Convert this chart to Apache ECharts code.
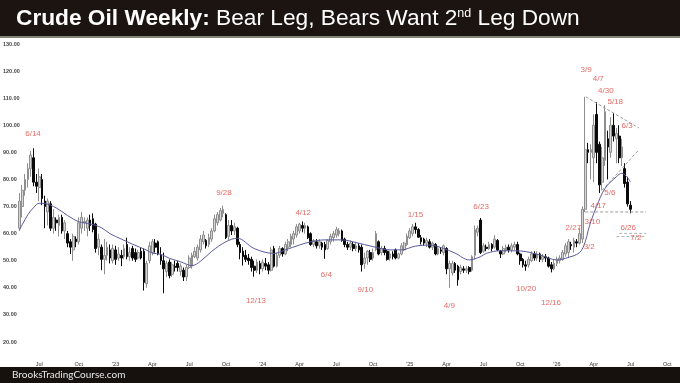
<!DOCTYPE html>
<html><head><meta charset="utf-8">
<script src="https://cdn.jsdelivr.net/npm/echarts/dist/echarts.min.js"></script>
<style>html,body{margin:0;padding:0;background:#fff;overflow:hidden}#c{width:680px;height:383px}</style>
</head><body><div id="c"></div>
<script>
// ---------- data ----------
const startWeek = '2022-05-13';   // first weekly bar (week ending Friday)
const totalWeeks = 234;           // axis span incl. empty future weeks
const monthTicks = {3:'Apr', 6:'Jul', 9:'Oct'}; // Jan shows the year as 'YY

const opens = [
62,70,76,80,84,88,79,77,80,72,
68,71,62,65,63,66,61,60,57,54,
58,57,62,64,62,65,65.5,63.5,55,55,
50.5,52,54,50,54,51,52,51.5,56,51.5,
54.5,53,51,53.5,53.5,41.5,50,53,56.5,57,
52,50,46,49.5,45,48,49,46,46.5,44,
47.5,48,51.5,51,54,57,57.5,56,58,61,
64,65,67.5,67,59,63,61,62,56,53.5,
52,51,50.5,48,46.5,49,47,49,48.5,46.5,
54.5,48,52,54.5,52.5,55,56,58,59.5,61,
63,62,62.5,60,56,57,55.5,56.5,56,54.5,
57,58.5,59.5,60,61,58,56,55,56,54.5,
55.5,55,49,51,53,51,54,57,53,54.5,
53.5,51,52.5,54,51,52.5,54,56,58.5,60,
62.5,61.5,58.5,58,56.5,57,55,56,52.5,54,
53,54.5,47,45.5,49,48,46,47,46.5,47.5,
46.5,52,60.5,65,53.5,55,54.5,56,55,57.5,
53.5,52.5,54,55,54,55,56,52.5,50.5,48.5,
48.5,50,52.5,51,52.5,50.5,51.5,51,48.5,47,
49,50,50.5,52.5,53,56,55,57,56.5,58,
69,91,90,88,104,93,79,87,95,90,
100,95,96,88,84,79,70.5];
const closes = [
72,76,80,84,89,79,77.5,81,73,70,
72,62,66,64,66,61,64,56.5,55,59,
57,64,66,64.5,65,63,61.5,54.5,58,50.5,
52,55,51,54.5,50.5,52.5,51,54.5,51.5,53,
51,50.5,53,51,42,49,55.5,57,55,52.5,
50,47,49,44.5,48.5,47.5,47.5,48,44,47.5,
51,52,53.5,55,58,59.5,55.5,58.5,61,65.5,
67,68.5,69,58.5,63,61,62.5,56,53,51.5,
50.5,50,47.5,46.5,49.5,47,49.5,48,46.5,54,
48,52,54.5,52.5,56,57,59,60,62.5,63.5,
62,63,58.5,56,57.5,55.5,57,55,54,57.5,
59,60,61.5,61,57.5,56,55,56.5,54.5,55.5,
54,48.5,51,53.5,50.5,53,60,52.5,54.5,53,
50.5,52.5,51.5,51,52.5,55.5,56.5,59,61,62.5,
61.5,58.7,57,56.5,57.5,55,56.5,52.5,54.5,53.5,
55.5,47,49,49,46.5,43,47.5,46.5,47,46,
51.5,61.5,62,53,55.5,54.5,56,54.5,58,54,
52.5,54.5,55,54,55.5,56,52.5,50,48.5,48,
50.5,52.5,51,52.5,50.5,51.5,51,48,47,49,
50.5,51,53,55.5,57,55.5,57.5,56.5,60,69,
91,90,91,100,90,78,88,105,92,100,
96,97,88,92,78.5,71,69];
const highs = [
75,78,82,86,90.5,91.5,82,84,82,74,
73,72,69,66,67,67,65,61,58,60,
59,66,68,66,66,67,67.5,64,60,56,
58,57,56,56,55.5,55,54,56,58.5,55,
55.5,54.5,54,55,54.5,50,57,58,58,57.5,
55,53,50,50.5,49.5,50,50,49,47.5,48.5,
52,53,55,56,59.5,61,58,60,62,67,
68,69.5,70.3,67.5,65,65,64,62.5,57,55,
54,52.5,51.5,50,50.5,50,50.5,51,49.5,55,
55.5,53,55.5,55,57,58,60,61,63.5,64,
64.5,64,63,60.5,58,58,58,57,57,58,
60,61,62.5,62,61.5,58.5,57,57.5,57,57,
56.5,56,53,54,54,54.5,61,57.5,55.5,55.5,
54,53.5,53.5,54.5,53,56.5,57,60,62,63.6,
64,62,59.5,58.5,58.5,58,57,56.5,55.5,55,
56,55,50,50,49.5,48.5,48.5,48,48,48,
52,63,63,65.8,56.5,56,57,56.5,59.5,58,
54,55.5,56,56,56.5,57,57,53,51,50,
51.5,53.5,53.5,53.5,53,52.5,52.5,51.5,49.5,50.5,
51.5,52,54,56.5,58,57,58.5,58,62,70,
110.5,93.5,93,104,108.6,94,92,107.4,98,103,
104.5,99,100,95,86,81,72];
const lows = [
61,66,74,77,81,77.5,75,72,70.5,62,
63,61,60,61,59,60,58,55,52.5,50,
55,56,60,61,59,61,60.5,53,52,46.5,
45,50,49,49,48.5,50,48,50.5,50.5,50,
50,49.5,50.5,50.5,39,40,49,52,53,52,
48.5,38,44,43.5,44,46,46,44.5,42.5,42.5,
47,47,51,50,53,56,54.5,55,57,60.5,
63,64.5,66,58,57.5,59.5,59.5,55,50.5,48.2,
49.5,48.5,46,44.1,45.5,45,46,46.5,45,46,
47.5,47.5,51,51.5,52,53.5,55,56,58.5,60,
60.5,60,58,55.5,55,54.5,54.5,54,50.7,54,
56,57,58.5,59,57,55,54,54,53.5,53.5,
53,46,47,48.5,49.5,50,53.5,52,52,52,
50,50,50.5,50.5,50.5,52,53.5,55.5,58,59,
60,58.5,56,55.5,55,54.5,54,52,52,52.5,
52,45,40,44.5,45.5,40.8,45,45.5,45.5,45,
46,50.5,59,52.5,53,53.5,54,53.5,54.5,53.5,
51,52,53,53,53,54,52,48.5,47.5,46.3,
47.5,49.5,50,50,49.5,49.5,49.5,47.5,45.7,46.5,
48,49,50,51.5,51,54,53,55,56,56.5,
68,86,80,79,86,75,76,85,80,88,
94,86,86,85,77,70,67.5];

// moving average (week index, value)
const maWeek = [0,3,5,7,9,13,17,21,25,29,32,36,40,45,47,50,53,57,61,64,68,73,77,83,90,94,99,103,108,114,119,125,131,135,140,145,150,154,159,163,165,170,177,184,190,193,198,200,201,202,204,207,211,213,215,216];
const maValue = [61.3,67,69.6,71.2,71.1,69.5,66.7,64.4,63.6,62.2,60,58,56.1,53.9,52.8,52.4,50.9,49.6,48.2,49.8,53.5,57,58.3,54.5,52.7,54,55.8,57,57.7,57.7,56.7,55.2,54,54,55.4,55.8,54.5,52.8,50.3,51.5,52.7,53.7,53.6,52.1,50.3,50.9,53,57,61,64.5,70,76.7,81,82.3,80.6,79];

// dashed trend / support lines: [week, price] pairs
const trendTop     = [[200.2,110.5],[219,99]];
const trendRising  = [[206,76],[219,91]];
const support3_10  = [[200,68],[221.5,68]];
const gapLineA     = [[212,60.1],[221.5,60.1]];
const gapLineB     = [[211,58.9],[221.5,58.9]];

// red date annotations: text, week position, price position
const noteText  = ['6/14','9/28','12/13','4/12','6/4','9/10','1/15','6/23','4/9','10/20','12/16','2/27','3/2','3/10','3/9','4/7','4/30','5/18','6/3','5/6','4/17','6/26','7/2'];
const noteWeek  = [4.8,72.3,83.6,100.3,108.5,122.3,140.0,163.2,152.0,179.1,187.9,195.8,201.4,202.5,200.3,204.6,207.3,210.6,214.8,208.7,204.6,215.2,217.9];
const notePrice = [97.0,75.0,35.2,67.7,44.7,39.4,67.1,69.9,33.3,39.8,34.3,62.1,55.2,64.4,120.4,117.1,112.7,108.7,99.7,75.1,70.3,62.2,58.4];

// ---------- build ----------
if (opens.length!==closes.length||opens.length!==highs.length||opens.length!==lows.length)
  throw new Error('length mismatch '+[opens.length,closes.length,highs.length,lows.length].join(','));

const weeks = [];
const d0 = new Date(startWeek+'T00:00:00Z');
for (let i=0;i<totalWeeks;i++){ weeks.push(new Date(d0.getTime()+i*7*864e5).toISOString().slice(0,10)); }
function tickText(i){
  if (i<=0) return '';
  const m = +weeks[i].slice(5,7)-1, pm = +weeks[i-1].slice(5,7)-1;
  if (m===pm || m%3!==0) return '';
  return m===0 ? "'"+weeks[i].slice(2,4) : monthTicks[m];
}
const candles = opens.map((o,i)=>[o,closes[i],lows[i],highs[i]]);
const dashStyle = {color:'#9a9a9a', width:1, type:[3,2]};
function dashed(pts, color){ return {type:'line', xAxisIndex:1, data:pts, symbol:'none', silent:true, z:4,
  lineStyle:Object.assign({}, dashStyle, color?{color}:{})}; }

const chart = echarts.init(document.getElementById('c'), null, {renderer:'canvas'});
chart.setOption({
  animation:false,
  backgroundColor:'#fff',
  grid:{left:17.6, right:0, top:44, bottom:41, containLabel:false},
  xAxis:[{
    type:'category', data:weeks, boundaryGap:true,
    axisLine:{show:false}, axisTick:{show:false}, splitLine:{show:false},
    axisLabel:{interval:(i)=>tickText(i)!=='', formatter:(v,i)=>tickText(i), fontSize:5.5, color:'#333', margin:19,
      showMinLabel:true, showMaxLabel:true, hideOverlap:false, fontFamily:'Liberation Sans, Arial, sans-serif'}
  },{
    type:'value', min:-0.5, max:totalWeeks-0.5, show:false
  }],
  yAxis:{
    type:'value', min:20, max:130, interval:10,
    axisLine:{show:false}, axisTick:{show:false}, splitLine:{show:false},
    axisLabel:{formatter:v=>v.toFixed(2), fontSize:5.5, fontWeight:'bold', color:'#444', align:'left', margin:15,
      fontFamily:'Liberation Sans, Arial, sans-serif'}
  },
  series:[
    {type:'candlestick', data:candles, barWidth:2.2, z:3,
      itemStyle:{color:'#d6d6d6', color0:'#0a0a0a', borderColor:'#8e8e8e', borderColor0:'#0a0a0a', borderWidth:1}},
    {type:'line', xAxisIndex:1, data:maWeek.map((w,i)=>[w,maValue[i]]), smooth:0.35, symbol:'none', z:5,
      lineStyle:{color:'#5a5a9e', width:1}},
    dashed(trendTop), dashed(trendRising), dashed(support3_10), dashed(gapLineA,'#b0b0b0'), dashed(gapLineB,'#b0b0b0'),
    {type:'scatter', xAxisIndex:1, symbol:'circle', symbolSize:1, itemStyle:{color:'rgba(0,0,0,0)'}, z:6,
      data:noteText.map((t,i)=>[noteWeek[i],notePrice[i],t]),
      label:{show:true, position:'inside', formatter:p=>p.data[2], color:'#e0443c', fontSize:8,
        fontFamily:'Liberation Sans, Arial, sans-serif'}}
  ],
  graphic:[
    {type:'rect', left:0, top:0, shape:{width:680, height:36}, style:{fill:'#1b1411'}, z:10},
    {type:'rect', left:0, top:36, shape:{width:680, height:2}, style:{fill:'#858577'}, z:10},
    {type:'text', left:16, top:7, z:11, style:{
      text:'{b|Crude Oil Weekly:} {r|Bear Leg, Bears Want 2}{s|nd}{r| Leg Down}',
      rich:{
        b:{fontFamily:'"Liberation Sans", Arial, sans-serif', fontWeight:'bold', fontSize:22.7, fill:'#fff', color:'#fff', padding:[0,3,0,0]},
        r:{fontFamily:'"Liberation Sans", Arial, sans-serif', fontSize:22.7, fill:'#fff', color:'#fff'},
        s:{fontFamily:'"Liberation Sans", Arial, sans-serif', fontSize:12.5, fill:'#fff', color:'#fff', verticalAlign:'top', padding:[0,0,10,0]}
      }}},
    {type:'rect', left:0, top:367, shape:{width:680, height:16}, style:{fill:'#17110e'}, z:10},
    {type:'text', left:12, top:369.5, z:11, style:{text:'BrooksTradingCourse.com', fill:'#e8e8e8', fontSize:10, fontFamily:'Lato, "Open Sans", sans-serif'}}
  ]
});
</script>
</body></html>
